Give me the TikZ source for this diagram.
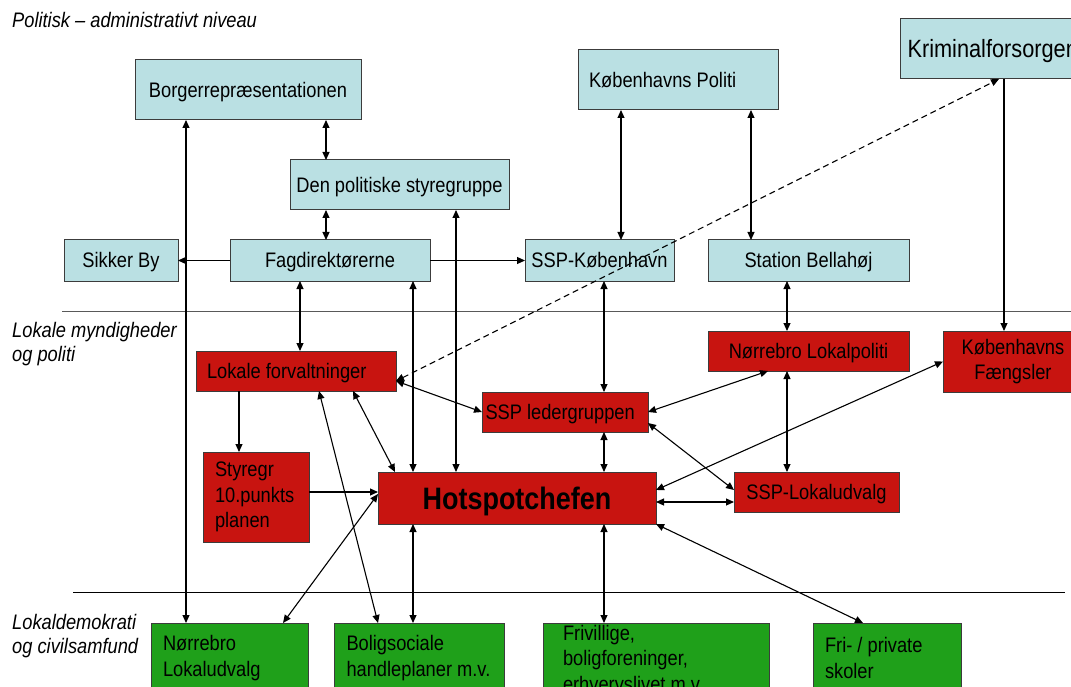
\documentclass[tikz,border=0pt]{standalone}
\usepackage{fontspec}
\setmainfont{Liberation Sans}[FakeStretch=0.87]
\usetikzlibrary{arrows.meta}
\definecolor{boxblue}{RGB}{186,224,227}
\definecolor{boxred}{RGB}{200,20,16}
\definecolor{boxgreen}{RGB}{31,160,26}
\definecolor{boxline}{RGB}{60,60,60}
\tikzset{
  orgbox/.style={draw=boxline, line width=1pt, outer sep=0pt, inner sep=0pt,
    font=\fontsize{21}{25.5}\selectfont},
  bluebox/.style={orgbox, fill=boxblue},
  redbox/.style={orgbox, fill=boxred},
  greenbox/.style={orgbox, fill=boxgreen},
  oneline/.style={text height=15pt, text depth=0pt},
  levellabel/.style={anchor=west, inner sep=0pt, align=flush left,
    font=\fontsize{21}{24.5}\selectfont\itshape},
  link/.style={line width=1.1pt},
}

\begin{document}
\begin{tikzpicture}[x=1pt, y=-1pt, >={Triangle[length=8pt,width=7pt]}]
			%%%%% START %%%%%
			\useasboundingbox (0,0) rectangle (1071,687);
			\fill[white] (0,0) rectangle (1071,687);

			% niveauer
			\draw[line width=1pt, color=black!65] (62,311) -- (1071,311);
			\draw[line width=1pt] (73,592) -- (1065,592);
			\node[levellabel] (lblpol) at (12,20) {Politisk -- administrativt niveau};
			\node[levellabel] (lbllok) at (12,344) {Lokale myndigheder\\og politi};
			\node[levellabel] (lbldem) at (12,636) {Lokaldemokrati\\og civilsamfund};

			% politisk - administrativt
			\node[bluebox, oneline, minimum width=226pt, minimum height=60pt] (borger) at (248,90) {Borgerrepræsentationen};
			\node[bluebox, oneline, minimum width=219pt, minimum height=50pt] (styregrp) at (399.5,185) {Den politiske styregruppe};
			\node[bluebox, oneline, minimum width=114pt, minimum height=41pt] (sikkerby) at (121,260.5) {Sikker By};
			\node[bluebox, oneline, minimum width=200pt, minimum height=41pt] (fagdir) at (330,260.5) {Fagdirektørerne};
			\node[bluebox, oneline, minimum width=149pt, minimum height=41pt] (sspkbh) at (599.5,260.5) {SSP-København};
			\node[bluebox, oneline, minimum width=201pt, minimum height=41pt] (bellahoj) at (808.5,260.5) {Station Bellahøj};
			\node[bluebox, oneline, text width=178pt, inner xsep=11pt, align=flush left, minimum height=60pt] (kbhpoliti) at (678,80) {Københavns~Politi};
			\node[bluebox, text width=170pt, inner xsep=7.5pt, align=flush left, minimum height=60pt,
			  text height=18pt, text depth=0pt, font=\fontsize{25}{28}\selectfont] (krimforsorg) at (992.5,49) {Kriminalforsorgen};

			% lokale myndigheder og politi
			\node[redbox, oneline, text width=178pt, inner xsep=11pt, align=flush left, minimum height=40pt] (lokforv) at (296,371) {Lokale~forvaltninger};
			\node[redbox, oneline, text width=159pt, inner xsep=3.5pt, align=flush left, minimum height=40pt] (sspleder) at (565,412) {SSP~ledergruppen};
			\node[redbox, oneline, minimum width=201pt, minimum height=40pt] (nlpoliti) at (808.5,351) {Nørrebro Lokalpoliti};
			\node[redbox, minimum width=140pt, minimum height=61pt, align=center] (faengsler) at (1013,361.5) {Københavns\\Fængsler};
			\node[redbox, text width=82pt, inner xsep=12pt, align=flush left, minimum height=90pt] (styregr10) at (256,497) {Styregr\\10.punkts\\planen};
			\node[redbox, minimum width=278pt, minimum height=52pt, text height=22pt, text depth=0pt,
			  font=\fontsize{31}{34}\selectfont\bfseries] (hotspot) at (517,498) {Hotspotchefen};
			\node[redbox, oneline, minimum width=165pt, minimum height=40pt] (ssplok) at (816.5,492) {SSP-Lokaludvalg};

			% lokaldemokrati og civilsamfund
			\node[greenbox, text width=133pt, inner xsep=12pt, align=flush left, minimum height=70pt] (nlu) at (229.5,658) {Nørrebro\\Lokaludvalg};
			\node[greenbox, text width=145pt, inner xsep=12.5pt, align=flush left, minimum height=70pt] (bolig) at (419,658) {Boligsociale\\handleplaner~m.v.};
			\node[greenbox, text width=186pt, inner xsep=20pt, align=flush left, minimum height=70pt] (frivillige) at (656,658) {Frivillige,\\boligforeninger,\\erhvervslivet~m.v.};
			\node[greenbox, text width=124pt, inner xsep=12pt, align=flush left, minimum height=70pt] (skoler) at (887,658) {Fri-~/~private\\skoler};

			% forbindelser, top
			\draw[link, <->] (borger.south -| 326,0) -- (styregrp.north -| 326,0);
			\draw[link, <->] (styregrp.south -| 326,0) -- (fagdir.north -| 326,0);
			\draw[link, ->] (fagdir.west) -- (sikkerby.east);
			\draw[link, ->] (fagdir.east) -- (sspkbh.west);
			\draw[link, <->] (borger.south -| 186,0) -- (nlu.north -| 186,0);
			\draw[link, <->] (styregrp.south -| 456,0) -- (hotspot.north -| 456,0);
			\draw[link, <->] (fagdir.south -| 300,0) -- (lokforv.north -| 300,0);
			\draw[link, <->] (fagdir.south -| 413,0) -- (hotspot.north -| 413,0);
			\draw[link, <->] (kbhpoliti.south -| 621,0) -- (sspkbh.north -| 621,0);
			\draw[link, <->] (kbhpoliti.south -| 751,0) -- (bellahoj.north -| 751,0);
			\draw[link, ->] (krimforsorg.south -| 1004,0) -- (faengsler.north -| 1004,0);
			\draw[link, <->, dash pattern=on 6pt off 4pt] ([yshift=-10pt]lokforv.east) -- (krimforsorg.south -| 999,0);
			\draw[link, <->] (sspkbh.south -| 604,0) -- (sspleder.north -| 604,0);
			\draw[link, <->] (bellahoj.south -| 787,0) -- (nlpoliti.north -| 787,0);

			% forbindelser, lokalt
			\draw[link, <->] ([yshift=-10pt]lokforv.east) -- (sspleder.west);
			\draw[link, ->] (lokforv.south -| 239,0) -- (styregr10.north -| 239,0);
			\draw[link, ->] (styregr10.east |- 0,492) -- (hotspot.west |- 0,492);
			\draw[link, <->] (lokforv.south -| 353,0) -- (hotspot.north -| 395,0);
			\draw[link, <->] (lokforv.south -| 319,0) -- (bolig.north -| 378,0);
			\draw[link, <->] (hotspot.west |- 0,494) -- (nlu.north -| 283,0);
			\draw[link, <->] (hotspot.south -| 413,0) -- (bolig.north -| 413,0);
			\draw[link, <->] (sspleder.east) -- (nlpoliti.south -| 768,0);
			\draw[link, <->] (sspleder.south -| 604,0) -- (hotspot.north -| 604,0);
			\draw[link, <->] (sspleder.east |- 0,423) -- (ssplok.west |- 0,490);
			\draw[link, <->] (nlpoliti.south -| 787,0) -- (ssplok.north -| 787,0);
			\draw[link, <->] (hotspot.east |- 0,490) -- (faengsler.west);
			\draw[link, <->] (hotspot.east |- 0,502) -- (ssplok.west |- 0,502);
			\draw[link, <->] (hotspot.south east) -- (skoler.north -| 863,0);
			\draw[link, <->] (hotspot.south -| 604,0) -- (frivillige.north -| 604,0);
			%%%%% END %%%%%
		\end{tikzpicture}
\end{document}
